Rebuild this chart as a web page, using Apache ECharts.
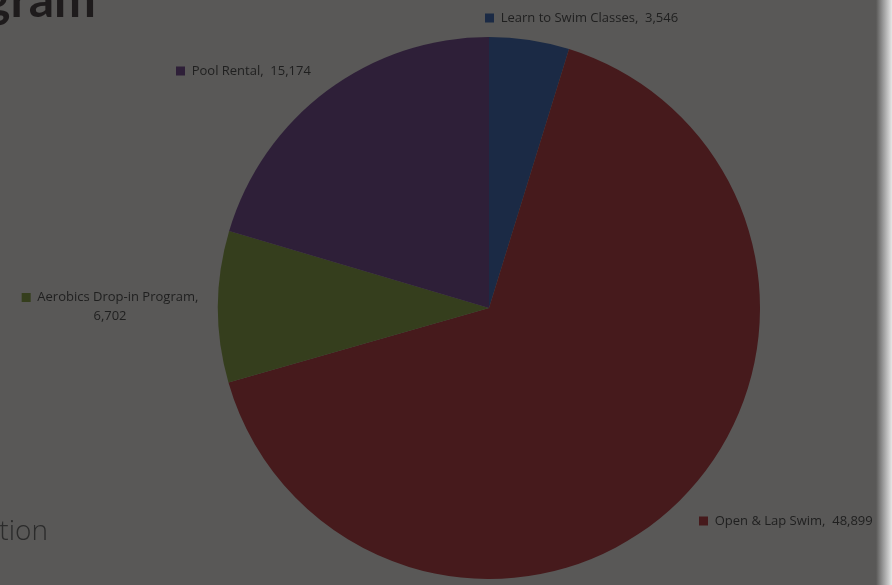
<!DOCTYPE html>
<html><head><meta charset="utf-8">
<script src="https://cdn.jsdelivr.net/npm/echarts@6/dist/echarts.min.js"></script>
<style>html,body{margin:0;padding:0;background:#595857;}#c{width:892px;height:585px;}</style>
</head><body><div id="c"></div>
<script>
const categories = ['Learn to Swim Classes', 'Open & Lap Swim', 'Aerobics Drop-in Program', 'Pool Rental'];
const values = [3546, 48899, 6702, 15174];
const colors = ['#1b2a45', '#461a1c', '#353e1d', '#2e1f38'];

const labelPos = [
  {x: 485, y: 18, align: 'left'},
  {x: 699, y: 521, align: 'left'},
  {x: 110, y: 307, align: 'center'},
  {x: 176, y: 71, align: 'left'}
];
const fmt = v => v.toLocaleString('en-US');

const chart = echarts.init(document.getElementById('c'), null, {renderer: 'canvas'});
chart.setOption({
  backgroundColor: '#595857',
  animation: false,
  graphic: [
    {type: 'text', x: 96, y: -24, style: {text: 'Program', fill: '#1e1b1c', font: 'bold 50px Lato', textAlign: 'right', textVerticalAlign: 'top'}},
    {type: 'text', x: 48, y: 532, style: {text: 'Participation', fill: '#2b2b2b', font: '300 28px "Open Sans"', textAlign: 'right', textVerticalAlign: 'middle'}},
    {type: 'rect', shape: {x: 876, y: 0, width: 16, height: 585},
      style: {fill: new echarts.graphic.LinearGradient(0, 0, 1, 0, [
        {offset: 0, color: '#595857'}, {offset: 0.45, color: '#9a9a9a'}, {offset: 1, color: '#e6e6e6'}])}}
  ],
  series: [{
    type: 'pie',
    center: [489, 308],
    radius: [0, 271],
    startAngle: 90,
    clockwise: true,
    silent: true,
    data: categories.map((n, i) => ({name: n, value: values[i], itemStyle: {color: colors[i]}})),
    labelLine: {show: false},
    label: {
      show: true,
      overflow: 'none',
      width: 300,
      formatter: p => p.dataIndex === 2
        ? '{sq|}  {t|' + p.name + ',}\n{t|' + fmt(p.value) + '}'
        : '{sq|}  {t|' + p.name + ',  ' + fmt(p.value) + '}',
      rich: {
        sq: {width: 9, height: 9, backgroundColor: 'inherit'},
        t: {fontFamily: 'Open Sans', fontSize: 13, color: '#1f1f1f', lineHeight: 19}
      }
    },
    labelLayout: p => Object.assign({verticalAlign: 'middle'}, labelPos[p.dataIndex])
  }]
});
</script></body></html>
